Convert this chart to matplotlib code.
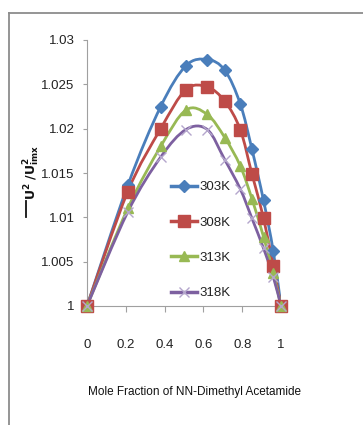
import numpy as np
import matplotlib
matplotlib.use("Agg")
import matplotlib.pyplot as plt
from matplotlib.path import Path
from matplotlib.patches import PathPatch
from matplotlib.lines import Line2D

# ---- data ----
mole_fraction = [0, 0.21, 0.38, 0.51, 0.62, 0.71, 0.79, 0.85, 0.91, 0.96, 1]
u303 = [1, 1.0136, 1.0225, 1.0271, 1.0278, 1.0266, 1.0228, 1.0177, 1.0119, 1.0062, 1]
u308 = [1, 1.0129, 1.0200, 1.0244, 1.0247, 1.0231, 1.0199, 1.0149, 1.0099, 1.0045, 1]
u313 = [1, 1.0110, 1.0180, 1.0221, 1.0216, 1.0190, 1.0158, 1.0121, 1.0078, 1.0037, 1]
u318 = [1, 1.0106, 1.0168, 1.0199, 1.0199, 1.0165, 1.0132, 1.0099, 1.0065, 1.0033, 1]
labels = ["303K", "308K", "313K", "318K"]
x_ticks = [0, 0.2, 0.4, 0.6, 0.8, 1]
x_tick_labels = ["0", "0.2", "0.4", "0.6", "0.8", "1"]
y_ticks = [1, 1.005, 1.01, 1.015, 1.02, 1.025, 1.03]
y_tick_labels = ["1", "1.005", "1.01", "1.015", "1.02", "1.025", "1.03"]

plt.rcParams['font.family'] = ['Liberation Sans', 'DejaVu Sans']

W, H = 363, 425
fig = plt.figure(figsize=(W / 100, H / 100), dpi=100)
fig.patch.set_facecolor('white')

# outer chart frame (cropped)
fig.add_artist(Line2D([9 / W, 1], [1 - 13 / H, 1 - 13 / H], color='#8c8c8c', lw=1.3))
fig.add_artist(Line2D([9 / W, 9 / W], [0, 1 - 13 / H], color='#8c8c8c', lw=1.3))

ax = fig.add_axes([87 / W, 1 - 306 / H, (281 - 87) / W, (306 - 40) / H])
ax.set_xlim(0, 1)
ax.set_ylim(1, 1.03)
for s in ['top', 'right']:
    ax.spines[s].set_visible(False)
for s in ['left', 'bottom']:
    ax.spines[s].set_color('#a0a0a0')
    ax.spines[s].set_linewidth(0.8)

ax.set_xticks(x_ticks)
ax.set_xticklabels(x_tick_labels)
ax.set_yticks(y_ticks)
ax.set_yticklabels(y_tick_labels)
ax.tick_params(axis='x', direction='out', length=4, color='#a0a0a0', pad=20, labelsize=9.5, labelcolor='#222222')
ax.tick_params(axis='y', direction='out', length=3, color='#a0a0a0', pad=6, labelsize=9.5, labelcolor='#222222')


def smooth_path(xs, ys):
    xs = np.asarray(xs, float)
    ys = np.asarray(ys, float)
    pts = np.column_stack([xs, ys])
    n = len(pts)
    verts = [pts[0]]
    codes = [Path.MOVETO]
    for i in range(n - 1):
        p0 = pts[i - 1] if i > 0 else pts[i]
        p1 = pts[i]
        p2 = pts[i + 1]
        p3 = pts[i + 2] if i + 2 < n else pts[i + 1]
        c1 = p1 + (p2 - p0) / 6.0
        c2 = p2 - (p3 - p1) / 6.0
        verts += [c1, c2, p2]
        codes += [Path.CURVE4] * 3
    return Path(verts, codes)


series = [u303, u308, u313, u318]
colors = ['#4a7ebb', '#be4b48', '#98b954', '#7d60a0']
markers = ['D', 's', '^', 'x']
msizes = [6, 8, 7.5, 7]

handles = []
for ys, c, m, ms, lab in zip(series, colors, markers, msizes, labels):
    patch = PathPatch(smooth_path(mole_fraction, ys), facecolor='none', edgecolor=c, lw=2.0, zorder=3)
    ax.add_patch(patch)
    if m == 'x':
        mk = dict(marker='x', markersize=ms, markeredgecolor='#b4a6cc', markeredgewidth=1.0)
    else:
        mk = dict(marker=m, markersize=ms, markerfacecolor=c, markeredgecolor=c)
    ax.plot(mole_fraction, ys, linestyle='none', clip_on=False, zorder=4, **mk)
    handles.append(Line2D([], [], color=c, lw=2.5, **mk))

leg = ax.legend(handles, labels, loc='upper left', bbox_to_anchor=((171 - 87) / (281 - 87), (306 - 181) / (306 - 40)),
                frameon=False, fontsize=9.5, handlelength=2.0, handletextpad=0.15,
                labelspacing=1.75, borderaxespad=0, borderpad=0)
for t in leg.get_texts():
    t.set_color('#222222')

# x label
fig.text(195 / W, 1 - 392 / H, 'Mole Fraction of NN-Dimethyl Acetamide', ha='center', va='center',
         fontsize=8.5, color='#111111')

# y label
fig.text(32 / W, 1 - 172 / H, r'$\mathbf{U^2\ /U^2_{imx}}$', rotation=90, ha='center', va='center',
         fontsize=9, color='#111111')
fig.add_artist(Line2D([25.5 / W, 25.5 / W], [1 - 217 / H, 1 - 201 / H], color='#111111', lw=1.3))

fig.savefig('out.png', dpi=100)
